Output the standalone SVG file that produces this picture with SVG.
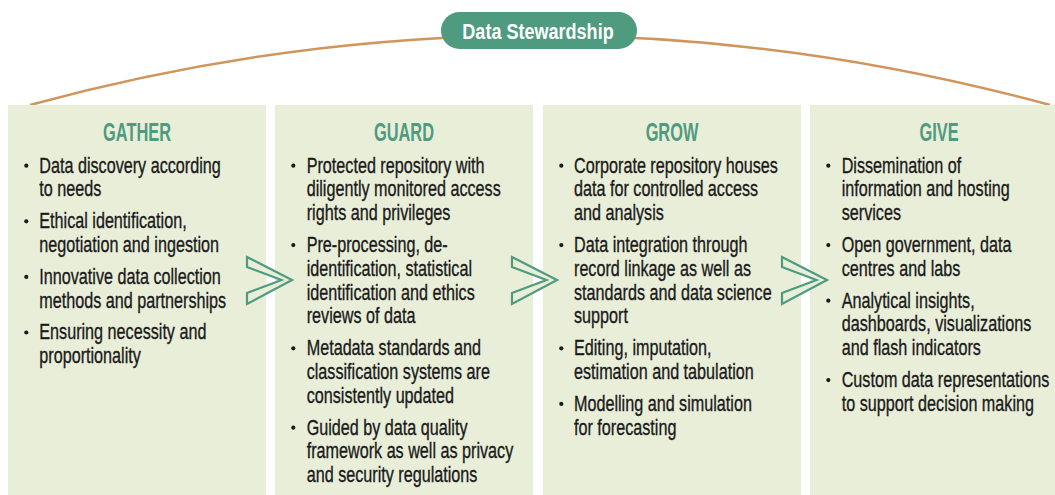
<svg xmlns="http://www.w3.org/2000/svg" width="1055" height="495" viewBox="0 0 1055 495">
<style>
.panel{fill:#e9eed9;}
.hdr{font-family:"Liberation Sans",Arial,sans-serif;font-weight:bold;font-size:26px;fill:#4f9b7f;text-anchor:middle;}
.body{font-family:"Liberation Sans",Arial,sans-serif;font-size:22px;fill:#1a1a1a;stroke:#1a1a1a;stroke-width:0.35;}
.dot{fill:#1a1a1a;}
.chev{fill:#e9eed9;stroke:#4f9b7f;stroke-width:2.2;stroke-linejoin:miter;}
.arc{fill:none;stroke:#d0955a;stroke-width:2.5;}
.title{font-family:"Liberation Sans",Arial,sans-serif;font-weight:bold;font-size:22px;fill:#ffffff;text-anchor:middle;}
</style>
<defs>
<polygon id="chevron" points="0,-23 45,0 0,24 0,13 34.5,0 0,-13"/>
</defs>
<rect width="1055" height="495" fill="#ffffff"/>

<g id="stewardship-arc">
<path class="arc" d="M30,105 Q540,-34 1050,105"/>
</g>

<g id="node-title">
<rect x="441" y="12" width="196" height="37" rx="18.5" fill="#4f9b7f"/>
<text class="title" transform="translate(538,39.3) scale(0.82,1)" x="0" y="0">Data Stewardship</text>
</g>

<g id="node-gather">
<rect class="panel" x="8" y="105" width="258" height="395"/>
<text class="hdr" transform="translate(137,141) scale(0.63,1)" x="0" y="0">GATHER</text>
<circle class="dot" cx="26.3" cy="165.7" r="2.1"/>
<circle class="dot" cx="26.3" cy="221.3" r="2.1"/>
<circle class="dot" cx="26.3" cy="276.9" r="2.1"/>
<circle class="dot" cx="26.3" cy="332.5" r="2.1"/>
<g transform="translate(39.3,0) scale(0.735,1)">
<text class="body"><tspan x="0" y="172.7">Data discovery according</tspan><tspan x="0" y="196.5">to needs</tspan></text>
<text class="body"><tspan x="0" y="228.3">Ethical identification,</tspan><tspan x="0" y="252.1">negotiation and ingestion</tspan></text>
<text class="body"><tspan x="0" y="283.9">Innovative data collection</tspan><tspan x="0" y="307.7">methods and partnerships</tspan></text>
<text class="body"><tspan x="0" y="339.5">Ensuring necessity and</tspan><tspan x="0" y="363.3">proportionality</tspan></text>
</g>
</g>

<g id="node-guard">
<rect class="panel" x="275" y="105" width="258" height="395"/>
<text class="hdr" transform="translate(404,141) scale(0.63,1)" x="0" y="0">GUARD</text>
<circle class="dot" cx="293.3" cy="165.7" r="2.1"/>
<circle class="dot" cx="293.3" cy="245.1" r="2.1"/>
<circle class="dot" cx="293.3" cy="348.3" r="2.1"/>
<circle class="dot" cx="293.3" cy="427.7" r="2.1"/>
<g transform="translate(306.7,0) scale(0.735,1)">
<text class="body"><tspan x="0" y="172.7">Protected repository with</tspan><tspan x="0" y="196.5">diligently monitored access</tspan><tspan x="0" y="220.3">rights and privileges</tspan></text>
<text class="body"><tspan x="0" y="252.1">Pre-processing, de-</tspan><tspan x="0" y="275.9">identification, statistical</tspan><tspan x="0" y="299.7">identification and ethics</tspan><tspan x="0" y="323.5">reviews of data</tspan></text>
<text class="body"><tspan x="0" y="355.3">Metadata standards and</tspan><tspan x="0" y="379.1">classification systems are</tspan><tspan x="0" y="402.9">consistently updated</tspan></text>
<text class="body"><tspan x="0" y="434.7">Guided by data quality</tspan><tspan x="0" y="458.5">framework as well as privacy</tspan><tspan x="0" y="482.3">and security regulations</tspan></text>
</g>
</g>

<g id="node-grow">
<rect class="panel" x="543" y="105" width="258" height="395"/>
<text class="hdr" transform="translate(672,141) scale(0.63,1)" x="0" y="0">GROW</text>
<circle class="dot" cx="561.3" cy="165.7" r="2.1"/>
<circle class="dot" cx="561.3" cy="245.1" r="2.1"/>
<circle class="dot" cx="561.3" cy="348.3" r="2.1"/>
<circle class="dot" cx="561.3" cy="403.9" r="2.1"/>
<g transform="translate(574,0) scale(0.735,1)">
<text class="body"><tspan x="0" y="172.7">Corporate repository houses</tspan><tspan x="0" y="196.5">data for controlled access</tspan><tspan x="0" y="220.3">and analysis</tspan></text>
<text class="body"><tspan x="0" y="252.1">Data integration through</tspan><tspan x="0" y="275.9">record linkage as well as</tspan><tspan x="0" y="299.7">standards and data science</tspan><tspan x="0" y="323.5">support</tspan></text>
<text class="body"><tspan x="0" y="355.3">Editing, imputation,</tspan><tspan x="0" y="379.1">estimation and tabulation</tspan></text>
<text class="body"><tspan x="0" y="410.9">Modelling and simulation</tspan><tspan x="0" y="434.7">for forecasting</tspan></text>
</g>
</g>

<g id="node-give">
<rect class="panel" x="810" y="105" width="258" height="395"/>
<text class="hdr" transform="translate(939,141) scale(0.63,1)" x="0" y="0">GIVE</text>
<circle class="dot" cx="828.3" cy="165.7" r="2.1"/>
<circle class="dot" cx="828.3" cy="245.1" r="2.1"/>
<circle class="dot" cx="828.3" cy="300.7" r="2.1"/>
<circle class="dot" cx="828.3" cy="380.1" r="2.1"/>
<g transform="translate(841.7,0) scale(0.735,1)">
<text class="body"><tspan x="0" y="172.7">Dissemination of</tspan><tspan x="0" y="196.5">information and hosting</tspan><tspan x="0" y="220.3">services</tspan></text>
<text class="body"><tspan x="0" y="252.1">Open government, data</tspan><tspan x="0" y="275.9">centres and labs</tspan></text>
<text class="body"><tspan x="0" y="307.7">Analytical insights,</tspan><tspan x="0" y="331.5">dashboards, visualizations</tspan><tspan x="0" y="355.3">and flash indicators</tspan></text>
<text class="body"><tspan x="0" y="387.1">Custom data representations</tspan><tspan x="0" y="410.9">to support decision making</tspan></text>
</g>
</g>

<g id="connectors">
<use href="#chevron" class="chev" transform="translate(247,280)"/>
<use href="#chevron" class="chev" transform="translate(512,280)"/>
<use href="#chevron" class="chev" transform="translate(782,280)"/>
</g>
</svg>
